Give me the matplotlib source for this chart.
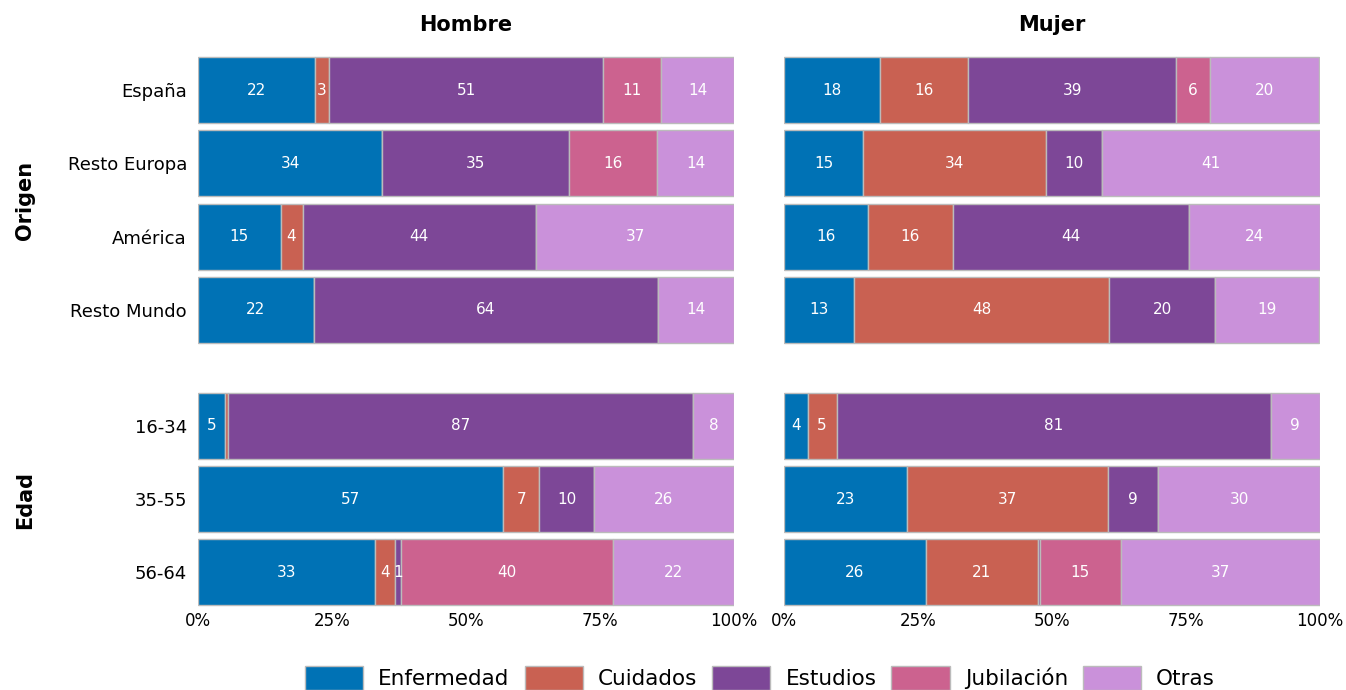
import matplotlib.pyplot as plt
import numpy as np
from matplotlib.patches import Patch

categorias = ["Enfermedad", "Cuidados", "Estudios", "Jubilación", "Otras"]
colores = ["#0072B5", "#C96152", "#7D4797", "#CC628F", "#CA91DA"]

origen = ["España", "Resto Europa", "América", "Resto Mundo"]
edad = ["16-34", "35-55", "56-64"]

# % por motivo: filas = grupo, columnas = categorias
hombre_origen = [
    [21.8, 2.7, 51.1, 10.8, 13.6],
    [34.4, 0.0, 34.8, 16.5, 14.3],
    [15.4, 4.1, 43.6, 0.0, 36.9],
    [21.6, 0.0, 64.2, 0.0, 14.2],
]
mujer_origen = [
    [18.0, 16.3, 38.9, 6.2, 20.4],
    [14.8, 34.1, 10.4, 0.0, 40.7],
    [15.6, 15.9, 44.0, 0.0, 24.5],
    [13.1, 47.6, 19.8, 0.0, 19.4],
]
hombre_edad = [
    [5.1, 0.5, 86.7, 0.0, 7.7],
    [56.9, 6.8, 10.1, 0.0, 26.2],
    [33.1, 3.6, 1.2, 39.6, 22.5],
]
mujer_edad = [
    [4.4, 5.4, 81.0, 0.0, 9.2],
    [23.0, 37.4, 9.4, 0.0, 30.2],
    [26.4, 21.0, 0.3, 15.1, 37.2],
]


def barras(ax, etiquetas, datos, show_y, show_x):
    datos = np.array(datos)
    y = np.arange(len(etiquetas))
    left = np.zeros(len(etiquetas))
    for j, cat in enumerate(categorias):
        vals = datos[:, j]
        ax.barh(y, vals, left=left, height=0.9, color=colores[j],
                edgecolor="#bbbbbb", linewidth=1)
        for yi, (l, v) in enumerate(zip(left, vals)):
            if round(v) >= 1:
                ax.text(l + v / 2, yi, f"{round(v):d}", color="white",
                        ha="center", va="center", fontsize=11)
        left = left + vals
    ax.set_xlim(0, 100)
    ax.set_ylim(len(etiquetas) - 0.5, -0.5)
    ax.set_yticks(y)
    if show_y:
        ax.set_yticklabels(etiquetas, fontsize=13)
    else:
        ax.set_yticklabels([])
    ax.set_xticks([0, 25, 50, 75, 100])
    if show_x:
        ax.set_xticklabels(["0%", "25%", "50%", "75%", "100%"], fontsize=12)
    else:
        ax.set_xticklabels([])
    ax.tick_params(axis="y", length=0, pad=8)
    ax.tick_params(axis="x", length=0, pad=2.5)
    for s in ax.spines.values():
        s.set_visible(False)


fig = plt.figure(figsize=(13.46, 6.9), dpi=100)
W, H = 1346, 690
xl = [198 / W, 784 / W]
w = 536 / W
ax1 = fig.add_axes([xl[0], 0.4978, w, 0.4246])
ax2 = fig.add_axes([xl[1], 0.4978, w, 0.4246])
ax3 = fig.add_axes([xl[0], 0.1174, w, 0.3188])
ax4 = fig.add_axes([xl[1], 0.1174, w, 0.3188])

barras(ax1, origen, hombre_origen, True, False)
barras(ax2, origen, mujer_origen, False, False)
barras(ax3, edad, hombre_edad, True, True)
barras(ax4, edad, mujer_edad, False, True)

ax1.set_title("Hombre", fontsize=15, fontweight="bold", pad=16)
ax2.set_title("Mujer", fontsize=15, fontweight="bold", pad=16)

fig.text(25 / W, 1 - 200 / H, "Origen", rotation=90, ha="center", va="center",
         fontsize=15, fontweight="bold")
fig.text(25 / W, 1 - 500 / H, "Edad", rotation=90, ha="center", va="center",
         fontsize=15, fontweight="bold")

handles = [Patch(facecolor=c, edgecolor="#bbbbbb", label=l)
           for c, l in zip(colores, categorias)]
fig.legend(handles=handles, loc="center", bbox_to_anchor=(760 / W, 12 / H),
           ncol=5, frameon=False, fontsize=15.5, handlelength=2.7,
           handleheight=1.3, columnspacing=0.7, handletextpad=0.7)

fig.savefig("out.png", dpi=100)
